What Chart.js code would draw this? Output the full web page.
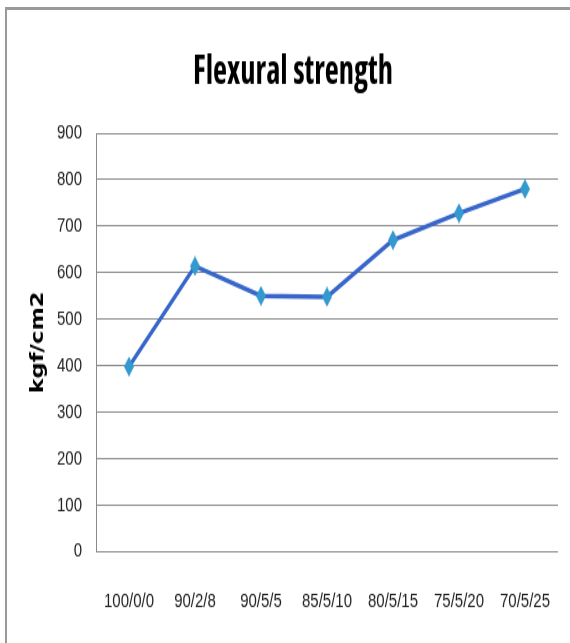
<!DOCTYPE html>
<html>
<head>
<meta charset="utf-8">
<script src="https://cdn.jsdelivr.net/npm/chart.js@4/dist/chart.umd.min.js"></script>
<style>
  html, body { margin: 0; padding: 0; background: #fff; }
  #wrap { position: relative; width: 570px; height: 643px; overflow: hidden; background: #fff; }
  #frame { position: absolute; left: 5px; top: 7px; right: -5px; bottom: -5px;
           border-top: 3px solid #9a9a9a; border-left: 2px solid #9a9a9a; }
  #stretch { position: absolute; left: 0; top: 0; width: 570px; height: 483px;
             transform-origin: 0 0; transform: scaleY(1.3313); }
</style>
</head>
<body>
<div id="wrap">
  <div id="frame"></div>
  <div id="stretch"><canvas id="c" width="570" height="483"></canvas></div>
</div>
<script>
const categories = ["100/0/0", "90/2/8", "90/5/5", "85/5/10", "80/5/15", "75/5/20", "70/5/25"];
const flexuralStrength = [398, 614, 550, 548, 670, 728, 780];
const yTicks = [0, 100, 200, 300, 400, 500, 600, 700, 800, 900];
const chartTitle = "Flexural strength";
const yAxisTitle = "kgf/cm2";

// pick a narrow bold face for the title (Calibri-like proportions)
const candidates = [
  { family: '"Liberation Sans Narrow"', weight: 'bold' },
  { family: '"Noto Sans"', weight: 'bold condensed' },
  { family: '"Noto Sans"', weight: 'bold semi-condensed' },
  { family: '"Open Sans"', weight: 'bold condensed' },
  { family: '"Open Sans"', weight: 'bold semi-condensed' },
  { family: 'Roboto', weight: 'bold condensed' },
  { family: '"DejaVu Sans Condensed"', weight: 'bold' },
  { family: '"Liberation Sans"', weight: 'bold' }
];
const mctx = document.createElement('canvas').getContext('2d');
const targetW = 200, targetCap = 23.5;
let best = null;
for (const c of candidates) {
  const f = c.weight + ' 100px ' + c.family;
  mctx.font = '10px serif';
  mctx.font = f;
  if (mctx.font.indexOf('100px') < 0) continue;
  const w = mctx.measureText(chartTitle).width;
  const cap = mctx.measureText('F').actualBoundingBoxAscent;
  const size = targetW * 100 / w;
  const capAt = cap * size / 100;
  const err = Math.abs(capAt - targetCap);
  if (!best || err < best.err - 0.3) best = { c, size, err };
}
const titleSize = Math.round(best.size * 10) / 10;
const titlePadTop = 50.6 - 0.493 * titleSize;
const titlePadBottom = 100 - titlePadTop - 1.2 * titleSize;

// diamond marker sprite (tall, narrow like the original)
const diamond = document.createElement('canvas');
diamond.width = 10; diamond.height = 15;
(function () {
  const d = diamond.getContext('2d');
  d.fillStyle = '#3399cf';
  d.beginPath();
  d.moveTo(5, 0); d.lineTo(10, 7.5); d.lineTo(5, 15); d.lineTo(0, 7.5);
  d.closePath(); d.fill();
})();

new Chart(document.getElementById('c'), {
  type: 'line',
  data: {
    labels: categories,
    datasets: [{
      label: chartTitle,
      data: flexuralStrength,
      borderColor: '#3867c9',
      borderWidth: 3.4,
      backgroundColor: '#3399cf',
      pointStyle: diamond,
      pointRadius: 6,
      pointBackgroundColor: '#3399cf',
      pointBorderColor: '#3399cf',
      pointBorderWidth: 0,
      tension: 0,
      fill: false
    }]
  },
  options: {
    responsive: false,
    animation: false,
    devicePixelRatio: 1,
    layout: { padding: { top: 0, left: 28, right: 12, bottom: 0 } },
    plugins: {
      legend: { display: false },
      tooltip: { enabled: false },
      title: {
        display: true,
        text: chartTitle,
        color: '#000',
        font: { family: best.c.family, size: titleSize, weight: best.c.weight },
        padding: { top: titlePadTop, bottom: titlePadBottom }
      }
    },
    scales: {
      x: {
        offset: true,
        grid: { display: false, drawTicks: false },
        border: { display: false },
        afterFit: (axis) => { axis.height = 68.7; axis.paddingLeft = 0; axis.paddingRight = 0; },
        ticks: {
          color: '#222',
          padding: 29,
          maxRotation: 0,
          autoSkip: false,
          font: { family: '"Liberation Sans", Arial, sans-serif', size: 15 }
        }
      },
      y: {
        min: 0,
        max: 900,
        afterBuildTicks: (axis) => { axis.ticks = yTicks.map(v => ({ value: v })); },
        afterFit: (axis) => { axis.width = 68; axis.paddingTop = 0; axis.paddingBottom = 0; },
        grid: { color: '#8a8a8a', lineWidth: 1, drawTicks: false },
        border: { display: true, color: '#8a8a8a', width: 1 },
        ticks: {
          color: '#222',
          padding: 14,
          font: { family: '"Liberation Sans", Arial, sans-serif', size: 15 }
        },
        title: {
          display: true,
          text: yAxisTitle,
          color: '#000',
          font: { family: '"DejaVu Sans", Verdana, sans-serif', size: 17, weight: 'bold' },
          padding: { top: 0, bottom: 0 }
        }
      }
    }
  }
});
</script>
</body>
</html>
